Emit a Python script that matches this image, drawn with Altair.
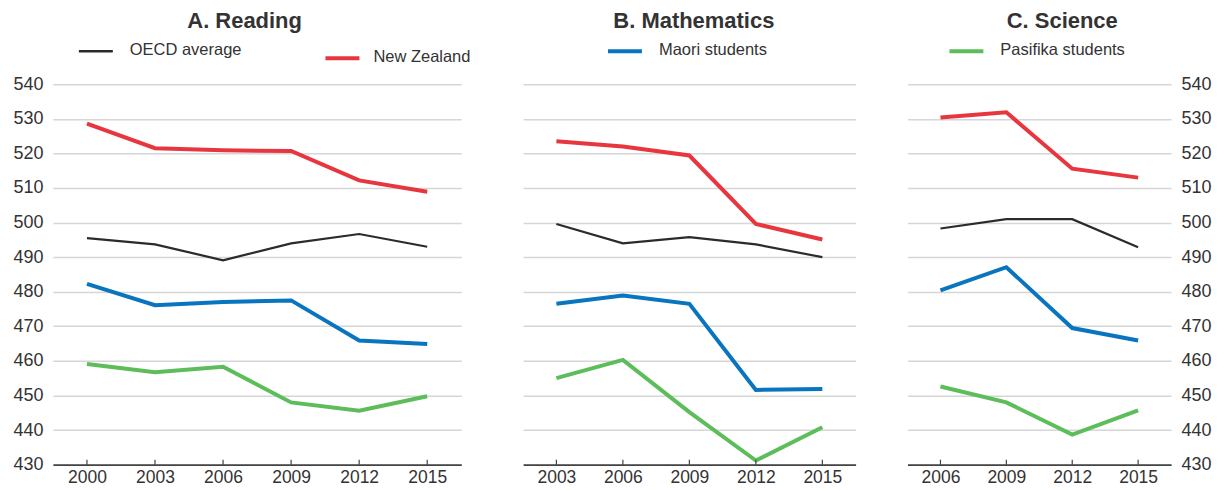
import altair as alt
import pandas as pd

# ---- data -------------------------------------------------------------
groups = ["OECD average", "New Zealand", "Maori students", "Pasifika students"]
colors = ["#2b2b2b", "#e8363f", "#0a75bf", "#5cbd5a"]
widths = [2.2, 4, 4, 4]

reading_years = [2000, 2003, 2006, 2009, 2012, 2015]
reading_oecd = [495.5, 493.7, 489.1, 494.0, 496.7, 493.0]
reading_nz = [528.6, 521.5, 520.9, 520.7, 512.2, 508.9]
reading_maori = [482.3, 476.1, 477.0, 477.5, 465.9, 464.9]
reading_pasifika = [459.1, 456.7, 458.3, 448.0, 445.6, 449.8]

math_years = [2003, 2006, 2009, 2012, 2015]
math_oecd = [499.6, 494.0, 495.8, 493.7, 490.0]
math_nz = [523.5, 522.0, 519.4, 499.6, 495.1]
math_maori = [476.5, 478.9, 476.5, 451.6, 451.9]
math_pasifika = [455.0, 460.3, 445.2, 431.2, 440.8]

science_years = [2006, 2009, 2012, 2015]
science_oecd = [498.3, 501.0, 501.0, 492.9]
science_nz = [530.4, 531.9, 515.6, 513.0]
science_maori = [480.4, 487.1, 469.5, 465.9]
science_pasifika = [452.6, 448.0, 438.7, 445.7]

y_ticks = [430, 440, 450, 460, 470, 480, 490, 500, 510, 520, 530, 540]

FONT = "Liberation Sans"
TXT = "#333333"
H = 381


def frame(years, series):
    rows = []
    for g, vals in zip(groups, series):
        for yr, v in zip(years, vals):
            rows.append({"year": yr, "group": g, "score": v})
    return pd.DataFrame(rows)


def panel(years, series, width, title, title_x, legend_items, y_axis):
    df = frame(years, series)
    xscale = alt.Scale(type="point", padding=0.5)
    xaxis = alt.Axis(title=None, labelFontSize=17.5, labelColor=TXT, labelPadding=4,
                     labelAngle=0, labelAlign="center", labelBaseline="top",
                     ticks=False, domainColor="#444444", domainWidth=1.6,
                     grid=False, labelFont=FONT)
    lines = alt.Chart(df).mark_line().encode(
        x=alt.X("year:O", scale=xscale, axis=xaxis),
        y=alt.Y("score:Q", scale=alt.Scale(domain=[430, 540], nice=False, zero=False),
                axis=y_axis),
        color=alt.Color("group:N", scale=alt.Scale(domain=groups, range=colors), legend=None),
        strokeWidth=alt.StrokeWidth("group:N",
                                    scale=alt.Scale(type="ordinal", domain=groups, range=widths),
                                    legend=None),
        detail="group:N",
    )
    tick_df = pd.DataFrame({"year": years})
    ticks = alt.Chart(tick_df).mark_rule(color="#444444", strokeWidth=1.2).encode(
        x=alt.X("year:O", scale=xscale, axis=xaxis),
        y=alt.value(H - 5), y2=alt.value(H),
    )
    one = pd.DataFrame({"k": [0]})
    layers = [lines, ticks]
    for (label, color, sw, x0, ly, tx) in legend_items:
        layers.append(alt.Chart(one).mark_rule(color=color, strokeWidth=sw).encode(
            x=alt.value(x0), x2=alt.value(x0 + 34), y=alt.value(ly)))
        layers.append(alt.Chart(one).mark_text(
            align="left", baseline="middle", fontSize=16.5, font=FONT, color=TXT
        ).encode(x=alt.value(tx), y=alt.value(ly - 1), text=alt.value(label)))
    layers.append(alt.Chart(one).mark_text(
        align="center", baseline="middle", fontSize=22, fontWeight="bold", font=FONT, color=TXT
    ).encode(x=alt.value(title_x), y=alt.value(-63), text=alt.value(title)))
    return alt.layer(*layers).properties(width=width, height=H)


axis_common = dict(values=y_ticks, title=None, grid=True, gridColor="#d6d6d6", gridWidth=1.5,
                   domain=False, ticks=False, labelFontSize=18, labelColor=TXT,
                   labelPadding=10, labelFont=FONT)

pA = panel(reading_years, [reading_oecd, reading_nz, reading_maori, reading_pasifika],
           409, "A. Reading", 192,
           [("OECD average", colors[0], 2.5, 26, -33, 77),
            ("New Zealand", colors[1], 4, 273, -26, 321)],
           alt.Axis(orient="left", **axis_common))

pB = panel(math_years, [math_oecd, math_nz, math_maori, math_pasifika],
           333, "B. Mathematics", 171,
           [("Maori students", colors[2], 4, 85, -33, 136)],
           alt.Axis(orient="left", values=y_ticks, title=None, grid=True, gridColor="#d6d6d6",
                    gridWidth=1.5, domain=False, ticks=False, labels=False))

pC = panel(science_years, [science_oecd, science_nz, science_maori, science_pasifika],
           264, "C. Science", 155,
           [("Pasifika students", colors[3], 4, 42, -33, 93)],
           alt.Axis(orient="right", **axis_common))

chart = alt.hconcat(pA, pB, pC, spacing=52).properties(
    padding={"left": 4, "top": 2, "right": 0, "bottom": 0}
).configure(font=FONT).configure_view(strokeWidth=0, stroke="transparent")

chart.save("out.html", embed_options={"renderer": "svg", "actions": False})
